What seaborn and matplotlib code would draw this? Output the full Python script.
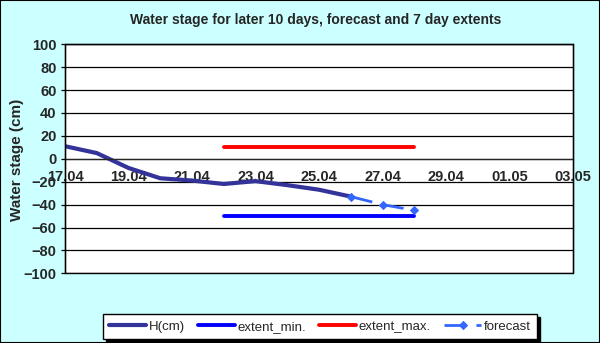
import pandas as pd
import numpy as np
import matplotlib
matplotlib.use('Agg')
import matplotlib.pyplot as plt
import matplotlib.dates as mdates
from matplotlib.patches import Rectangle
import seaborn as sns

# data
h_dates = ['17.04', '18.04', '19.04', '20.04', '21.04', '22.04', '23.04', '24.04', '25.04', '26.04']
h_values = [11, 5, -8, -17, -19, -22, -19.5, -23, -27, -33]

ext_dates = ['22.04', '23.04', '24.04', '25.04', '26.04', '27.04', '28.04']
ext_min = [-50, -50, -50, -50, -50, -50, -50]
ext_max = [10, 10, 10, 10, 10, 10, 10]

fc_dates = ['26.04', '27.04', '28.04']
fc_values = [-33, -40, -45]

year = '2013'


def to_dt(days):
    return pd.to_datetime([d + '.' + year for d in days], format='%d.%m.%Y')


sns.set_style('white')
plt.rcParams['font.family'] = ['Liberation Sans', 'DejaVu Sans']
plt.rcParams['font.weight'] = 'bold'
plt.rcParams['lines.scale_dashes'] = False

fig = plt.figure(figsize=(6, 3.43), dpi=100, facecolor='#CCFFFF')
ax = fig.add_axes([65 / 600, 1 - 273.3 / 343, 508 / 600, 229 / 343])
ax.set_facecolor('white')

sns.lineplot(x=to_dt(h_dates), y=h_values, ax=ax, color='#333399', lw=3,
             label='H(cm)', solid_joinstyle='round', solid_capstyle='round')
sns.lineplot(x=to_dt(ext_dates), y=ext_min, ax=ax, color='#0000FF', lw=2.8,
             label='extent_min.')
sns.lineplot(x=to_dt(ext_dates), y=ext_max, ax=ax, color='#FF0000', lw=2.8,
             label='extent_max.')
sns.lineplot(x=to_dt(fc_dates), y=fc_values, ax=ax, color='#3366FF', lw=2,
             linestyle=(0, (16, 7)), marker='D', markersize=4.5,
             markeredgecolor='#3366FF', label='forecast')

ax.set_xlim(pd.Timestamp('2013-04-17'), pd.Timestamp('2013-05-03'))
ax.set_ylim(-100, 100)
ax.set_yticks(np.arange(-100, 101, 20))
ax.grid(axis='y', color='black', lw=0.9)
ax.grid(axis='x', visible=False)

ax.xaxis.set_major_locator(mdates.DayLocator(interval=2))
ax.xaxis.set_major_formatter(mdates.DateFormatter('%d.%m'))
ax.xaxis.set_minor_locator(mdates.HourLocator(byhour=[0, 12]))
ax.spines['bottom'].set_position(('data', 0))
for s in ['top', 'right', 'left']:
    ax.spines[s].set_color('black')
    ax.spines[s].set_linewidth(0.9)
ax.spines['bottom'].set_linewidth(0.9)
ax.add_patch(Rectangle((0, 0), 1, 1, transform=ax.transAxes, fill=False,
                       ec='black', lw=1, clip_on=False, zorder=3))

ax.tick_params(axis='x', which='both', direction='out', length=3.6, width=0.9,
               color='black', labelsize=10.5, pad=4.5)
ax.tick_params(axis='y', direction='out', length=3, width=0.9, color='black',
               labelsize=10.5, pad=3, left=True)
for lab in ax.get_xticklabels() + ax.get_yticklabels():
    lab.set_fontweight('bold')

ax.set_xlabel('')
ax.set_ylabel('')
fig.text(17 / 600, 1 - 160 / 343, 'Water stage (cm)', rotation=90,
         ha='center', va='center', fontsize=11, fontweight='bold')
fig.text(316 / 600, 1 - 20 / 343,
         'Water stage for later 10 days, forecast and 7 day extents',
         ha='center', va='center', fontsize=10, fontweight='bold')

ax.legend_.remove()
handles, labels = ax.get_legend_handles_labels()
leg = fig.legend(handles, labels, loc='center', bbox_to_anchor=(320 / 600, 1 - 326.5 / 343),
                 ncol=4, frameon=True, fancybox=False,
                 shadow={'color': 'black', 'alpha': 1}, handlelength=2.8,
                 handletextpad=0.2, columnspacing=1.0, borderpad=0.45,
                 prop={'weight': 'normal', 'size': 9.5})
leg.get_frame().set_edgecolor('black')
leg.get_frame().set_linewidth(1)

fig.add_artist(Rectangle((0, 0), 1, 1, transform=fig.transFigure, fill=False,
                         ec='black', lw=1.5))

fig.savefig('out.png', dpi=100, facecolor=fig.get_facecolor())
